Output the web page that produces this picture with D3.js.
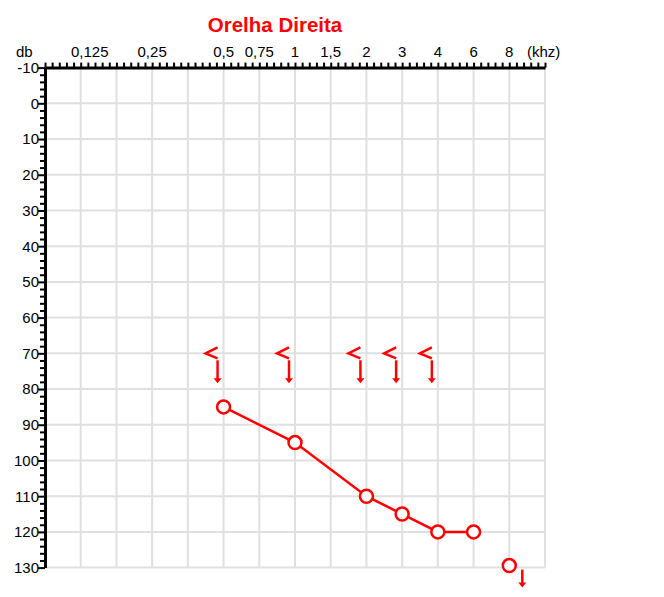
<!DOCTYPE html>
<html><head><meta charset="utf-8">
<script src="https://cdn.jsdelivr.net/npm/d3@7"></script>
<style>body{margin:0;background:#fff}svg{display:block}text{font-family:"Liberation Sans",Arial,sans-serif}</style>
</head><body><svg id="c" width="664" height="597"></svg>
<script>
// ---- data ----
const title = "Orelha Direita";
const xSlots = ["", "0,125", "", "0,25", "", "0,5", "0,75", "1", "1,5", "2", "3", "4", "6", "8", ""];
const dbTicks = [-10, 0, 10, 20, 30, 40, 50, 60, 70, 80, 90, 100, 110, 120, 130];
const airFreq = ["0,5", "1", "2", "3", "4", "6"];
const airDb = [85, 95, 110, 115, 120, 120];
const airNRFreq = ["8"];
const airNRDb = [130];
const boneFreq = ["0,5", "1", "2", "3", "4"];
const boneDb = [70, 70, 70, 70, 70];

const red = "#ff0000";
const svg = d3.select("#c");
const L = 45, T = 67.6, W = 500, H = 500;
const x = d3.scaleLinear().domain([0, xSlots.length - 1]).range([L, L + W]);
const y = d3.scaleLinear().domain([-10, 130]).range([T, T + H]);
const xf = f => x(xSlots.indexOf(f));

// grid
const g = svg.append("g");
g.selectAll("line.v").data(d3.range(1, xSlots.length)).join("line")
  .attr("x1", d => x(d)).attr("x2", d => x(d)).attr("y1", T).attr("y2", T + H)
  .attr("stroke", "#e0e0e0").attr("stroke-width", 2);
g.selectAll("line.h").data(dbTicks.slice(1)).join("line")
  .attr("x1", L).attr("x2", L + W).attr("y1", d => y(d)).attr("y2", d => y(d))
  .attr("stroke", "#e0e0e0").attr("stroke-width", 2);

// top axis
const topAxis = d3.axisTop(x).tickValues(d3.range(0, xSlots.length - 1 + 0.001, 0.2))
  .tickFormat("").tickSizeInner(5).tickSizeOuter(0);
const ta = svg.append("g").attr("transform", `translate(0,${T})`).call(topAxis);
ta.select(".domain").attr("stroke", "#000").attr("stroke-width", 3);
ta.selectAll(".tick line").attr("stroke", "#000").attr("stroke-width", 2);

// left axis
const leftAxis = d3.axisLeft(y).tickValues(d3.range(-10, 130.001, 2))
  .tickFormat("").tickSizeInner(5).tickSizeOuter(0);
const la = svg.append("g").attr("transform", `translate(${L},0)`).call(leftAxis);
la.select(".domain").attr("stroke", "#000").attr("stroke-width", 3);
la.selectAll(".tick line").attr("stroke", "#000").attr("stroke-width", 2);
la.selectAll(".tick").filter(d => Math.round(d) % 10 === 0).select("line").attr("x2", -7);

// left labels
svg.append("g").selectAll("text").data(dbTicks).join("text")
  .attr("x", 39).attr("y", d => y(d)).attr("dy", "0.36em").attr("text-anchor", "end")
  .attr("font-size", 15).text(d => d);

// top labels
svg.append("g").selectAll("text").data(xSlots.map((s, i) => ({s, i})).filter(d => d.s))
  .join("text").attr("x", d => x(d.i) + (d.s === "0,125" ? 9 : 0)).attr("y", 57)
  .attr("text-anchor", "middle").attr("font-size", 15).text(d => d.s);
svg.append("text").attr("x", 16).attr("y", 57).attr("font-size", 15).text("db");
svg.append("text").attr("x", 527).attr("y", 57).attr("font-size", 15).text("(khz)");

// title
svg.append("text").attr("x", 275).attr("y", 32).attr("text-anchor", "middle")
  .attr("font-size", 20.5).attr("font-weight", "bold").attr("fill", red).text(title);

// arrow helper
function arrow(sel, x0, y0, y1) {
  sel.append("line").attr("x1", x0).attr("x2", x0).attr("y1", y0).attr("y2", y1 - 3)
    .attr("stroke", red).attr("stroke-width", 2.5);
  sel.append("path").attr("d", `M${x0 - 4},${y1 - 5}L${x0 + 4},${y1 - 5}L${x0},${y1}Z`).attr("fill", red);
}

// bone conduction
const bone = boneFreq.map((f, i) => ({f, d: boneDb[i]}));
const bg = svg.append("g");
bone.forEach(p => {
  const cx = xf(p.f), cy = y(p.d);
  bg.append("path").attr("d", `M${cx - 6},${cy - 6}L${cx - 18},${cy}L${cx - 6},${cy + 5}`)
    .attr("fill", "none").attr("stroke", red).attr("stroke-width", 2.5);
  arrow(bg, cx - 6, cy + 7, cy + 30);
});

// air conduction
const air = airFreq.map((f, i) => ({f, d: airDb[i]}));
svg.append("path").datum(air)
  .attr("d", d3.line().x(p => xf(p.f)).y(p => y(p.d)))
  .attr("fill", "none").attr("stroke", red).attr("stroke-width", 2.5);
const nr = airNRFreq.map((f, i) => ({f, d: airNRDb[i]}));
svg.append("g").selectAll("circle").data(air.concat(nr)).join("circle")
  .attr("cx", p => xf(p.f)).attr("cy", p => y(p.d) - (p.d === 130 ? 2 : 0)).attr("r", 6.5)
  .attr("fill", "#fff").attr("stroke", red).attr("stroke-width", 2.5);
const ng = svg.append("g");
nr.forEach(p => arrow(ng, xf(p.f) + 13, y(p.d) + 2, y(p.d) + 20));
</script></body></html>
